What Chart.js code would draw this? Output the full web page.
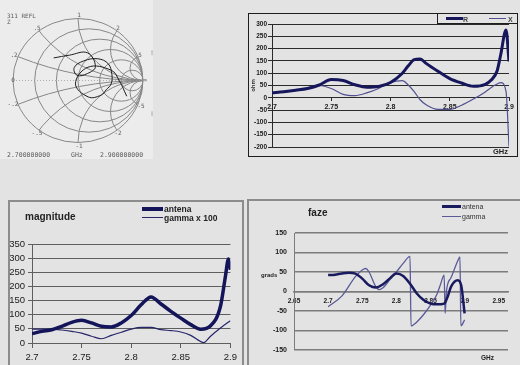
<!DOCTYPE html>
<html>
<head>
<meta charset="utf-8">
<script src="https://cdn.jsdelivr.net/npm/chart.js@4.4.1/dist/chart.umd.min.js"></script>
<style>
  html, body { margin: 0; padding: 0; }
  body { width: 520px; height: 365px; background: #e3e3e3; position: relative; overflow: hidden;
         font-family: "Liberation Sans", Arial, sans-serif; color: #222; }
  .abs { position: absolute; }
  .frame { position: absolute; box-sizing: border-box; }
  .lbl { position: absolute; white-space: nowrap; line-height: 1; }
  .c { transform: translate(-50%, -50%); }
  .m { transform: translateY(-50%); }
  .mono { font-family: "DejaVu Sans Mono", monospace; color: #5c5c5c; }
  .sw { position: absolute; }
  canvas { display: block; }
</style>
</head>
<body>

<!-- Smith chart: S11 reflection, 2.7 - 2.9 GHz -->
<div class="abs" style="left:0;top:0;width:153px;height:159px;background:#ececec;">
  <canvas id="cSmith" width="153" height="159"></canvas>
  <span class="lbl mono" style="left:7px;top:13px;font-size:6px;">311 REFL</span>
  <span class="lbl mono" style="left:7px;top:19px;font-size:6px;">Z</span>
  <span class="lbl mono c" style="left:37px;top:28px;font-size:6px;">.5</span>
  <span class="lbl mono c" style="left:79px;top:15px;font-size:6px;">1</span>
  <span class="lbl mono c" style="left:118px;top:28px;font-size:6px;">2</span>
  <span class="lbl mono c" style="left:14px;top:55px;font-size:6px;">.2</span>
  <span class="lbl mono c" style="left:140px;top:55px;font-size:6px;">5</span>
  <span class="lbl mono c" style="left:13px;top:80px;font-size:6px;">0</span>
  <span class="lbl mono c" style="left:145px;top:80px;font-size:6px;">∞</span>
  <span class="lbl mono c" style="left:13px;top:104px;font-size:6px;">-.2</span>
  <span class="lbl mono c" style="left:141px;top:106px;font-size:6px;">-5</span>
  <span class="lbl mono c" style="left:37px;top:133px;font-size:6px;">-.5</span>
  <span class="lbl mono c" style="left:79px;top:146px;font-size:6px;">-1</span>
  <span class="lbl mono c" style="left:118px;top:133px;font-size:6px;">-2</span>
  <span class="lbl mono c" style="left:152px;top:52px;font-size:5px;">|</span>
  <span class="lbl mono c" style="left:152px;top:113px;font-size:5px;">|</span>
  <span class="lbl mono m" style="left:7px;top:155px;font-size:6.5px;">2.700000000</span>
  <span class="lbl mono m" style="left:71px;top:155px;font-size:6.5px;">GHz</span>
  <span class="lbl mono m" style="left:100px;top:155px;font-size:6.5px;">2.900000000</span>
</div>

<!-- Impedance R / X -->
<div class="frame" style="left:248px;top:13px;width:270px;height:144px;border:1px solid #1e1e1e;">
  <canvas id="cRX" width="268" height="142"></canvas>
</div>
<div class="frame" style="left:437px;top:13px;width:81px;height:11px;border:1px solid #1e1e1e;">
  <div class="sw" style="left:8px;top:3px;width:17px;height:3px;background:#16165c;"></div>
  <span class="lbl m" style="left:25px;top:4.5px;font-size:7px;font-weight:bold;color:#444;">R</span>
  <div class="sw" style="left:51px;top:4px;width:17px;height:1px;background:#505090;"></div>
  <span class="lbl m" style="left:70px;top:4.5px;font-size:7px;font-weight:bold;color:#444;">X</span>
</div>
<span class="lbl m" style="left:493px;top:152px;font-size:7.5px;font-weight:bold;">GHz</span>

<!-- Magnitude -->
<div class="frame" style="left:8px;top:200px;width:236px;height:175px;border:2px solid #8c8c8c;">
  <canvas id="cMag" width="232" height="163"></canvas>
</div>
<span class="lbl m" style="left:25px;top:217px;font-size:10px;font-weight:bold;">magnitude</span>
<div class="sw" style="left:142px;top:207px;width:21px;height:4px;background:#14145a;"></div>
<span class="lbl m" style="left:164px;top:209px;font-size:8.5px;font-weight:bold;">antena</span>
<div class="sw" style="left:142px;top:216.5px;width:21px;height:1.2px;background:#26266a;"></div>
<span class="lbl m" style="left:164px;top:217.5px;font-size:8.5px;font-weight:bold;">gamma x 100</span>

<!-- Phase -->
<div class="frame" style="left:247px;top:199px;width:280px;height:175px;border:2px solid #8c8c8c;">
  <canvas id="cPh" width="271" height="164"></canvas>
</div>
<span class="lbl m" style="left:308px;top:213px;font-size:10px;font-weight:bold;">faze</span>
<div class="sw" style="left:442px;top:205px;width:19px;height:2.5px;background:#1a1a5e;"></div>
<span class="lbl m" style="left:462px;top:206px;font-size:7px;color:#333;">antena</span>
<div class="sw" style="left:442px;top:215.5px;width:19px;height:1.4px;background:#5a5a98;"></div>
<span class="lbl m" style="left:462px;top:216px;font-size:7px;color:#333;">gamma</span>
<span class="lbl m" style="left:261px;top:275px;font-size:6px;font-weight:bold;">grads</span>
<span class="lbl m" style="left:481px;top:358px;font-size:6.5px;font-weight:bold;">GHz</span>

<script>
// ---- Smith chart grid values and reflection coefficient trace ----
const smithR = [0.2, 0.5, 1, 2, 5];
const smithX = [0.2, 0.5, 1, 2, 5];
const gammaRe = [-0.374, -0.136, 0.146, 0.268, 0.145, -0.014, -0.058, 0.089, 0.307, 0.465,
                 0.521, 0.509, 0.438, 0.352, 0.158, -0.039, 0.153, 0.510, 0.631, 0.750];
const gammaIm = [0.364, 0.408, 0.446, 0.223, 0.112, 0.083, 0.209, 0.316, 0.350, 0.270,
                 0.101, -0.056, -0.145, -0.238, -0.265, -0.054, 0.214, 0.166, 0.005, -0.254];

// ---- Impedance (ohm) ----
const freqRX = [2.70, 2.71, 2.72, 2.73, 2.74, 2.75, 2.76, 2.77, 2.78, 2.79, 2.80, 2.81, 2.815,
                2.82, 2.825, 2.83, 2.84, 2.85, 2.86, 2.87, 2.88, 2.885, 2.89, 2.893, 2.8975, 2.9];
const resR   = [20, 25, 31, 38, 52, 74, 70, 53, 43, 46, 62, 100, 130,
                155, 158, 140, 108, 78, 60, 47, 55, 72, 110, 175, 276, 148];
const reacX  = [20, 25, 31, 38, 50, 38, 14, 9, 20, 38, 62, 70, 52,
                25, -8, -28, -47, -47, -30, -5, 24, 42, 56, 62, 25, -198];
const ticksRX = [2.7, 2.75, 2.8, 2.85, 2.9];

// ---- Magnitude ----
const freqMag   = [2.70, 2.71, 2.72, 2.73, 2.74, 2.75, 2.76, 2.77, 2.78, 2.79, 2.80, 2.81,
                   2.82, 2.83, 2.84, 2.85, 2.86, 2.87, 2.88, 2.89, 2.895, 2.898, 2.9];
const magAntena = [33, 41, 47, 59, 73, 80, 71, 59, 57, 71, 97, 135,
                   163, 138, 112, 88, 65, 49, 61, 130, 236, 297, 259];
const freqMagG  = [2.70, 2.72, 2.73, 2.74, 2.75, 2.76, 2.77, 2.78, 2.79, 2.80, 2.81, 2.82,
                   2.83, 2.84, 2.85, 2.86, 2.87, 2.873, 2.88, 2.89, 2.9];
const magGamma  = [49, 49, 46, 41, 35, 24, 15, 27, 38, 49, 55, 55,
                   47, 44, 39, 27, 5, 1, 24, 53, 79];
const ticksMagX = [2.7, 2.75, 2.8, 2.85, 2.9];

// ---- Phase (grads) ----
const freqPhA  = [2.70, 2.71, 2.72, 2.73, 2.74, 2.75, 2.76, 2.77, 2.78, 2.79, 2.80, 2.81,
                  2.82, 2.83, 2.84, 2.85, 2.86, 2.87, 2.875, 2.88, 2.89, 2.895, 2.9];
const phAntena = [42, 43, 46, 48, 46, 33, 16, 10, 18, 33, 46, 40,
                  20, -5, -22, -31, -33, -31, -14, 12, 29, 16, -56];
const freqPhG  = [2.70, 2.72, 2.74, 2.75, 2.755, 2.76, 2.77, 2.775, 2.78, 2.79, 2.80, 2.81,
                  2.82, 2.8215, 2.83, 2.84, 2.85, 2.86, 2.865, 2.87, 2.8715, 2.8735, 2.88,
                  2.885, 2.89, 2.8932, 2.8945, 2.9];
const phGamma  = [-39, -12, 38, 55, 59, 50, 12, 5, 9, 29, 50, 72,
                  90, -88, -78, -59, -35, -5, 20, 42, -56, 2, 35,
                  57, 79, 89, -88, -73];
const ticksPhX = [2.65, 2.7, 2.75, 2.8, 2.85, 2.9, 2.95];

const pts = (xs, ys) => xs.map((x, i) => ({ x: x, y: ys[i] }));
const fmt = v => String(Math.round(v * 100) / 100);

function line(data, color, width, mode) {
  return { data: data, showLine: true, borderColor: color, borderWidth: width,
           pointRadius: 0, fill: false, cubicInterpolationMode: mode || 'monotone' };
}

function cartesian(id, datasets, cfg) {
  return new Chart(document.getElementById(id), {
    type: 'scatter',
    data: { datasets: datasets },
    options: {
      responsive: false, animation: false, events: [],
      layout: { padding: cfg.padding, autoPadding: false },
      plugins: { legend: { display: false }, tooltip: { enabled: false } },
      scales: {
        x: {
          type: 'linear', position: { y: 0 }, min: cfg.xMin, max: cfg.xMax,
          afterBuildTicks: s => { s.ticks = cfg.xTicks.map(v => ({ value: v })); },
          grid: { drawOnChartArea: false, drawTicks: cfg.xTickLen > 0, tickLength: cfg.xTickLen,
                  color: cfg.axisColor, lineWidth: 1 },
          border: { display: true, color: cfg.axisColor, width: cfg.gridWidth },
          ticks: { callback: v => fmt(v), maxRotation: 0, autoSkip: false, padding: cfg.xPad,
                   color: '#1a1a1a', font: cfg.xFont }
        },
        y: {
          type: 'linear', position: 'left', min: cfg.yMin, max: cfg.yMax,
          afterFit: s => { s.width = cfg.yWidth; },
          grid: { color: cfg.gridColor, lineWidth: cfg.gridWidth, drawTicks: cfg.yTickLen > 0,
                  tickLength: cfg.yTickLen, tickColor: cfg.axisColor },
          border: { display: true, color: cfg.axisColor, width: 1 },
          title: cfg.yTitle || { display: false },
          ticks: { stepSize: 50, autoSkip: false, padding: cfg.yPad, color: '#1a1a1a', font: cfg.yFont }
        }
      }
    }
  });
}

// Smith chart: resistance circles and reactance arcs on the reflection plane
const smithGrid = {
  id: 'smithGrid',
  beforeDatasetsDraw(chart) {
    const ctx = chart.ctx, xs = chart.scales.x, ys = chart.scales.y;
    const px = v => xs.getPixelForValue(v), py = v => ys.getPixelForValue(v);
    const kx = px(1) - px(0), ky = py(0) - py(1);
    const cx = px(0), cy = py(0);
    ctx.save();
    ctx.strokeStyle = '#878787';
    ctx.lineWidth = 1;
    ctx.beginPath(); ctx.ellipse(cx, cy, kx, ky, 0, 0, Math.PI * 2); ctx.stroke();
    ctx.beginPath(); ctx.ellipse(cx, cy, kx, ky, 0, 0, Math.PI * 2); ctx.clip();
    smithR.forEach(r => {
      ctx.beginPath();
      ctx.ellipse(px(r / (1 + r)), cy, kx / (1 + r), ky / (1 + r), 0, 0, Math.PI * 2);
      ctx.stroke();
    });
    smithX.forEach(x => [x, -x].forEach(s => {
      ctx.beginPath();
      ctx.ellipse(px(1), py(1 / s), kx / Math.abs(s), ky / Math.abs(s), 0, 0, Math.PI * 2);
      ctx.stroke();
    }));
    ctx.restore();
    ctx.save();
    ctx.strokeStyle = '#9a9a9a';
    ctx.lineWidth = 0.8;
    ctx.setLineDash([1, 2]);
    ctx.beginPath(); ctx.moveTo(px(-1), cy); ctx.lineTo(px(1), cy); ctx.stroke();
    ctx.restore();
  }
};

new Chart(document.getElementById('cSmith'), {
  type: 'scatter',
  data: { datasets: [ line(pts(gammaRe, gammaIm), '#1c1c1c', 1, 'default') ] },
  options: {
    responsive: false, animation: false, events: [],
    layout: { padding: 0, autoPadding: false },
    elements: { line: { tension: 0.4 } },
    plugins: { legend: { display: false }, tooltip: { enabled: false } },
    scales: {
      x: { type: 'linear', display: false, min: -1.2, max: 1.154 },
      y: { type: 'linear', display: false, min: -1.266, max: 1.298 }
    }
  },
  plugins: [smithGrid]
});

cartesian('cRX', [
  line(pts(freqRX, resR), '#16165c', 3),
  line(pts(freqRX, reacX), '#505090', 1.2)
], {
  padding: { top: 10, bottom: 9, right: 8, left: 0 },
  xMin: 2.7, xMax: 2.9, xTicks: ticksRX, xTickLen: 3, xPad: 2,
  yMin: -200, yMax: 300, yWidth: 23, yTickLen: 4, yPad: 1,
  gridColor: '#2a2a2a', gridWidth: 1, axisColor: '#2a2a2a',
  xFont: { family: 'Liberation Sans', size: 7, weight: 'bold' },
  yFont: { family: 'Liberation Sans', size: 6.5, weight: 'bold' },
  yTitle: { display: true, text: 'ohm', color: '#333', padding: { top: 1, bottom: 0 },
            font: { family: 'Liberation Sans', size: 6, weight: 'bold' } }
});

cartesian('cMag', [
  line(pts(freqMag, magAntena), '#14145a', 3.5),
  line(pts(freqMagG, magGamma), '#26266a', 1.2)
], {
  padding: { top: 42, bottom: 22, right: 11, left: 0 },
  xMin: 2.7, xMax: 2.9, xTicks: ticksMagX, xTickLen: 4, xPad: 5,
  yMin: 0, yMax: 350, yWidth: 22, yTickLen: 4, yPad: 3,
  gridColor: '#5e5e5e', gridWidth: 1, axisColor: '#5e5e5e',
  xFont: { family: 'Liberation Sans', size: 9.5 },
  yFont: { family: 'Liberation Sans', size: 9.5 }
});

cartesian('cPh', [
  line(pts(freqPhA, phAntena), '#1a1a5e', 2.5),
  line(pts(freqPhG, phGamma), '#5a5a98', 1.3)
], {
  padding: { top: 32, bottom: 15, right: 12, left: 0 },
  xMin: 2.65, xMax: 2.9636, xTicks: ticksPhX, xTickLen: 0, xPad: 6,
  yMin: -150, yMax: 150, yWidth: 45, yTickLen: 0, yPad: 7,
  gridColor: '#7c7c7c', gridWidth: 1.5, axisColor: '#7c7c7c',
  xFont: { family: 'Liberation Sans', size: 6.5, weight: 'bold' },
  yFont: { family: 'Liberation Sans', size: 7, weight: 'bold' }
});
</script>
</body>
</html>
